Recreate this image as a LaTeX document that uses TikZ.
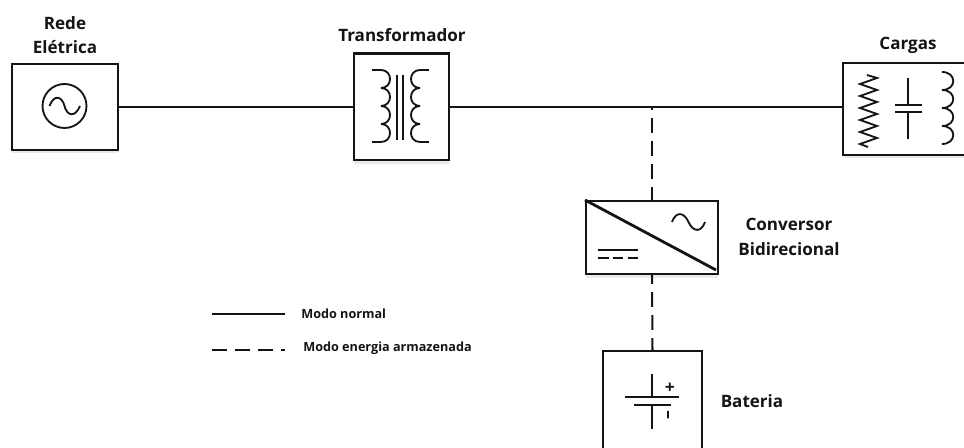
\documentclass[tikz,border=0pt]{standalone}
\usepackage{fontspec}
\setmainfont{Open Sans}
\usetikzlibrary{shadows}
\definecolor{InkBlack}{RGB}{20,20,20}
\definecolor{SoftShadow}{RGB}{205,220,240}
\tikzset{
	box/.style={draw=InkBlack,fill=white,line width=1.15pt,rectangle,
		drop shadow={shadow xshift=0pt,shadow yshift=-2pt,fill=SoftShadow,opacity=0.6}},
	wire/.style={draw=InkBlack,line width=1.15pt},
	dashwire/.style={wire,dash pattern=on 8.4pt off 4.7pt},
	sym/.style={draw=InkBlack,line width=1.05pt},
	lbl/.style={font=\bfseries\fontsize{9.7}{14}\selectfont,text=InkBlack,align=center,inner sep=0pt},
	legend/.style={font=\bfseries\fontsize{7.2}{8}\selectfont,text=InkBlack,anchor=west,inner sep=0pt},
	polar/.style={font=\bfseries\fontsize{10}{10}\selectfont,text=InkBlack,inner sep=0pt},
}
\begin{document}
\begin{tikzpicture}[x=0.02cm,y=-0.02cm]
	\useasboundingbox (0,0) rectangle (964,448);
	% blocks
	\node[box,minimum width=2.12cm,minimum height=1.72cm] (rede) at (65,107) {};
	\node[box,minimum width=1.9cm,minimum height=2.14cm] (trafo) at (401.5,107) {};
	\node[box,minimum width=2.8cm,minimum height=1.84cm] (cargas) at (913,109) {};
	\node[box,minimum width=2.64cm,minimum height=1.46cm] (conv) at (652,237.5) {};
	\node[box,minimum width=1.98cm,minimum height=2.4cm] (bat) at (652.5,411) {};
	\coordinate (bus) at (652,107);
	% connectors
	\draw[wire] (rede.east) -- (rede.east -| trafo.west);
	\draw[wire] (trafo.east) -- (trafo.east -| cargas.west);
	\draw[dashwire,dash phase=6.8pt] (bus) -- (conv.north);
	\draw[dashwire,dash phase=3.4pt] (conv.south) -- (bat.north);
	% source
	\node[circle,sym,minimum size=0.88cm,inner sep=0pt] (fonte) at (64.5,106) {};
	\draw[sym] (49.5,106) .. controls (54,94) and (62,96) .. (64.5,106) .. controls (67,116) and (75,118) .. (80,106);
	% transformer
	\draw[sym] (372,70) -- (381,70);
	\draw[sym] (372,142) -- (381,142);
	\draw[sym] (429,70) -- (420,70);
	\draw[sym] (429,142) -- (420,142);
	\foreach \y in {70,88,106,124}
	{
		\draw[sym] (381,\y) .. controls (393,\y) and (393,\y+18) .. (381,\y+18);
		\draw[sym] (420,\y) .. controls (408,\y) and (408,\y+18) .. (420,\y+18);
	}
	\draw[sym] (397,75) -- (397,140);
	\draw[sym] (403,75) -- (403,140);
	% loads
	\draw[sym] (867,75) -- (877,78) -- (860,84) -- (877,90) -- (860,96) -- (877,102) -- (860,108)
		-- (877,114) -- (860,120) -- (877,126) -- (860,132) -- (877,138) -- (860,144) -- (868,147);
	\draw[sym] (908,78) -- (908,105);
	\draw[sym] (908,112) -- (908,139);
	\draw[sym] (895,105) -- (922,105);
	\draw[sym] (895,112) -- (922,112);
	\foreach \y in {72,90,108,126}
	\draw[sym] (942,\y) .. controls (957,\y) and (957,\y+18) .. (942,\y+18);
	% converter
	\draw[InkBlack,line width=1.6pt] (conv.north west) -- (716,270);
	\draw[sym] (672,222) .. controls (676,211) and (684,212) .. (688.5,222) .. controls (693,232) and (701,233) .. (705,222);
	\draw[sym] (598,250) -- (638,250);
	\draw[sym,dash pattern=on 6pt off 2.4pt] (598,258) -- (638,258);
	% battery
	\draw[sym] (652,374) -- (652,397);
	\draw[sym] (625,397) -- (679,397);
	\draw[sym] (634,405) -- (671,405);
	\draw[sym] (652,405) -- (652,429);
	\node[polar] (mais) at (670,388) {+};
	\node[polar,rotate=90] (menos) at (670,415) {–};
	% labels
	\node[lbl] (lrede) at (65,35) {Rede\\Elétrica};
	\node[lbl] (ltrafo) at (402,35) {Transformador};
	\node[lbl] (lcargas) at (908,45) {Cargas};
	\node[lbl] (lconv) at (789,237) {Conversor\\Bidirecional};
	\node[lbl] (lbat) at (752,401) {Bateria};
	% legend
	\coordinate (n1) at (212,314);
	\coordinate (n2) at (285,314);
	\coordinate (e1) at (212,350);
	\coordinate (e2) at (285,350);
	\draw[wire] (n1) -- (n2);
	\draw[dashwire] (e1) -- (e2);
	\node[legend] (lnormal) at (301,314) {Modo normal};
	\node[legend] (lenergia) at (303,348) {Modo energia armazenada};
\end{tikzpicture}
\end{document}
